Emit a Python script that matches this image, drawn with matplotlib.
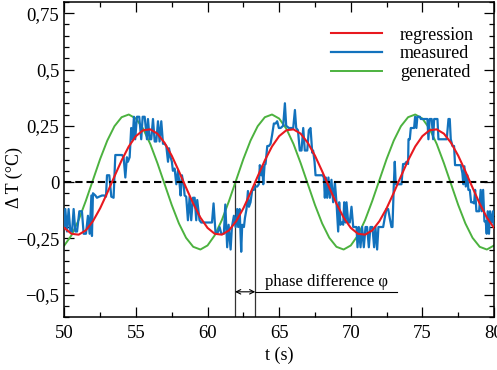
import matplotlib
matplotlib.use("Agg")
import matplotlib.pyplot as plt
import numpy as np
from matplotlib.ticker import MultipleLocator

# ---- data --------------------------------------------------------------
t_curve = np.arange(50.0, 80.01, 0.5)

regression = [
    -0.204, -0.230, -0.234, -0.215, -0.174, -0.117, -0.048, 0.025, 0.096, 0.158,
    0.204, 0.230, 0.234, 0.215, 0.174, 0.117, 0.048, -0.025, -0.096, -0.158,
    -0.204, -0.230, -0.234, -0.215, -0.174, -0.117, -0.048, 0.025, 0.096, 0.158,
    0.204, 0.230, 0.234, 0.215, 0.174, 0.117, 0.048, -0.025, -0.096, -0.158,
    -0.204, -0.230, -0.234, -0.215, -0.174, -0.117, -0.048, 0.025, 0.096, 0.158,
    0.204, 0.230, 0.234, 0.215, 0.174, 0.117, 0.048, -0.025, -0.096, -0.158,
    -0.204,
]

generated = [
    -0.282, -0.237, -0.169, -0.084, 0.009, 0.102, 0.184, 0.248, 0.288, 0.300,
    0.282, 0.237, 0.169, 0.084, -0.009, -0.102, -0.184, -0.248, -0.288, -0.300,
    -0.282, -0.237, -0.169, -0.084, 0.009, 0.102, 0.184, 0.248, 0.288, 0.300,
    0.282, 0.237, 0.169, 0.084, -0.009, -0.102, -0.184, -0.248, -0.288, -0.300,
    -0.282, -0.237, -0.169, -0.084, 0.009, 0.102, 0.184, 0.248, 0.288, 0.300,
    0.282, 0.237, 0.169, 0.084, -0.009, -0.102, -0.184, -0.248, -0.288, -0.300,
    -0.282,
]

t_meas = [
    50.00, 50.07, 50.19, 50.30, 50.42, 50.54, 50.65, 50.77, 50.89, 51.05,
    51.23, 51.35, 51.51, 51.65, 51.77, 51.89, 51.93, 52.00, 52.17, 52.28,
    52.44, 52.63, 52.81, 52.91, 52.98, 53.14, 53.28, 53.44, 53.56, 53.75,
    54.03, 54.14, 54.26, 54.37, 54.44, 54.56, 54.67, 54.77, 54.86, 54.95,
    55.07, 55.23, 55.37, 55.47, 55.61, 55.77,
    55.84, 55.96, 56.07, 56.19, 56.31, 56.42, 56.54, 56.65, 56.77, 56.89,
    57.00, 57.12, 57.24, 57.31, 57.42, 57.51, 57.58, 57.70, 57.82, 57.93,
    58.05, 58.12, 58.21, 58.33, 58.40, 58.51, 58.63, 58.75, 58.86, 58.98,
    59.10, 59.21, 59.28, 59.44, 59.56, 59.68, 59.91, 60.14, 60.31, 60.42,
    60.56, 60.68, 60.84, 60.96, 61.14, 61.24, 61.37, 61.47, 61.61, 61.70,
    61.84,
    61.96, 62.07, 62.14, 62.24, 62.35, 62.42, 62.54, 62.61, 62.72, 62.82,
    62.89, 63.00, 63.12, 63.24, 63.31, 63.47, 63.58, 63.65, 63.75, 63.82,
    63.89, 63.98, 64.05, 64.17, 64.28, 64.40, 64.51, 64.63, 64.75, 64.86,
    64.98, 65.10, 65.28, 65.40, 65.49, 65.68, 65.79, 65.98, 66.10, 66.19,
    66.31, 66.44, 66.56, 66.68, 66.79, 66.96, 67.07, 67.19, 67.31, 67.37,
    67.47, 67.54, 67.65, 67.84,
    68.03, 68.12, 68.19, 68.26, 68.35, 68.44, 68.54, 68.65, 68.77, 68.89,
    69.00, 69.12, 69.19, 69.28, 69.37, 69.47, 69.54, 69.63, 69.70, 69.82,
    69.93, 70.05, 70.17, 70.28, 70.40, 70.47, 70.56, 70.68, 70.79, 70.91,
    71.03, 71.14, 71.26, 71.37, 71.51, 71.63, 71.72, 71.84, 71.93, 72.03,
    72.14, 72.26, 72.37, 72.49, 72.61, 72.72, 72.84, 72.91, 73.00, 73.07,
    73.14, 73.24, 73.37, 73.54, 73.65, 73.77, 73.89, 74.00,
    74.03, 74.12, 74.19, 74.31, 74.42, 74.49, 74.58, 74.65, 74.82, 74.89,
    75.00, 75.12, 75.24, 75.35, 75.42, 75.51, 75.65, 75.75, 75.82, 75.93,
    76.05, 76.12, 76.24, 76.35, 76.44, 76.56, 76.70, 76.82, 76.91, 76.98,
    77.10, 77.21, 77.28, 77.44, 77.56, 77.68, 77.79, 77.86, 77.93, 78.03,
    78.14, 78.21, 78.31, 78.40, 78.49, 78.61, 78.68, 78.77, 78.84, 78.96,
    79.07, 79.14, 79.24, 79.33, 79.42, 79.49, 79.56, 79.65, 79.72, 79.84,
    79.93, 80.00,
]

measured = [
    -0.20, -0.12, -0.22, -0.12, -0.22, -0.22, -0.12, -0.22, -0.22, -0.13,
    -0.13, -0.23, -0.23, -0.15, -0.23, -0.06, -0.24, -0.05, -0.06, -0.07,
    -0.065, -0.06, -0.06, -0.065, 0.03, 0.03, -0.065, -0.07, 0.12, 0.12,
    0.12, 0.11, 0.02, 0.11, 0.09, 0.11, 0.24, 0.19, 0.29, 0.19,
    0.29, 0.29, 0.19, 0.29, 0.29, 0.19,
    0.28, 0.19, 0.19, 0.28, 0.18, 0.18, 0.27, 0.18, 0.27, 0.17,
    0.17, 0.16, 0.09, 0.15, 0.11, 0.09, 0.05, 0.06, -0.01, 0.05,
    -0.01, -0.06, 0.03, -0.01, -0.06, -0.065, -0.17, -0.065, -0.17, -0.07,
    -0.07, -0.17, -0.08, -0.17, -0.18, -0.18, -0.18, -0.18, -0.18, -0.095,
    -0.23, -0.23, -0.20, -0.23, -0.23, -0.10, -0.29, -0.19, -0.30, -0.20,
    -0.15,
    -0.20, -0.12, -0.20, -0.12, -0.31, -0.19, -0.20, -0.16, -0.12, -0.04,
    -0.11, -0.09, -0.035, -0.035, -0.02, -0.02, -0.01, 0.075, 0.03, 0.07,
    -0.01, 0.075, 0.08, 0.16, 0.16, 0.17, 0.21, 0.26, 0.26, 0.27,
    0.24, 0.24, 0.25, 0.35, 0.25, 0.24, 0.24, 0.24, 0.32, 0.24,
    0.23, 0.14, 0.14, 0.24, 0.14, 0.14, 0.23, 0.24, 0.13, 0.14,
    0.09, 0.03, 0.03, 0.03,
    0.03, 0.02, -0.07, 0.02, -0.07, 0.02, -0.07, 0.01, -0.09, 0.00,
    -0.09, -0.22, -0.09, -0.19, -0.18, -0.19, -0.09, -0.18, -0.09, -0.18,
    -0.18, -0.11, -0.20, -0.20, -0.20, -0.29, -0.20, -0.29, -0.20, -0.29,
    -0.20, -0.20, -0.29, -0.20, -0.20, -0.29, -0.20, -0.30, -0.20, -0.20,
    -0.20, -0.20, -0.16, -0.12, -0.12, -0.16, -0.20, -0.20, -0.02, 0.09,
    -0.01, -0.01, -0.01, -0.01, 0.08, 0.08, 0.09, 0.08,
    0.19, 0.19, 0.24, 0.24, 0.24, 0.29, 0.24, 0.29, 0.29, 0.28,
    0.28, 0.28, 0.28, 0.28, 0.19, 0.28, 0.28, 0.19, 0.28, 0.28,
    0.28, 0.19, 0.19, 0.19, 0.19, 0.19, 0.19, 0.28, 0.28, 0.19,
    0.16, 0.16, 0.075, 0.075, 0.075, 0.075, 0.04, -0.01, 0.07, -0.02,
    0.03, -0.035, -0.035, -0.09, -0.09, -0.095, -0.035, -0.13, -0.13, -0.13,
    -0.035, -0.13, -0.035, -0.175, -0.175, -0.23, -0.13, -0.23, -0.13, -0.18,
    -0.13, -0.20,
]

ytick_values = [-0.5, -0.25, 0.0, 0.25, 0.5, 0.75]
ytick_labels = ["\u22120,5", "\u22120,25", "0", "0,25", "0,5", "0,75"]
xtick_values = [50, 55, 60, 65, 70, 75, 80]

phase_start = 61.92   # generated crosses zero
phase_end = 63.33     # regression crosses zero
phase_arrow_y = -0.488
phase_line_end = 73.2

# ---- plot ---------------------------------------------------------------
plt.rcParams["font.family"] = ["Liberation Serif", "DejaVu Serif"]
plt.rcParams["font.size"] = 13

fig = plt.figure(figsize=(4.97, 3.70), dpi=100)
ax = fig.add_axes([0.1294, 0.1432, 0.8646, 0.8514])

ax.plot(t_curve, generated, color="#4cb23f", lw=1.4, label="generated", zorder=2)
ax.plot(t_meas, measured, color="#1272bd", lw=1.6, label="measured", zorder=3)
ax.axhline(0, color="black", lw=1.5, dashes=(3.5, 1.9), zorder=4)
ax.plot(t_curve, regression, color="#e8191f", lw=1.5, label="regression", zorder=5)

# phase difference annotation
ax.plot([phase_start, phase_start], [0.0, -0.6], color="#333333", lw=0.9, zorder=1)
ax.plot([phase_end, phase_end], [-0.01, -0.6], color="#333333", lw=0.9, zorder=1)
ax.annotate("", xy=(phase_start, phase_arrow_y), xytext=(phase_end, phase_arrow_y),
            arrowprops=dict(arrowstyle="<->", lw=0.8, color="black",
                            shrinkA=0, shrinkB=0, mutation_scale=8))
ax.plot([phase_end, phase_line_end], [phase_arrow_y, phase_arrow_y],
        color="black", lw=0.8)
ax.text(phase_end + 0.65, phase_arrow_y + 0.01, "phase difference \u03c6",
        ha="left", va="bottom", fontsize=12)

ax.set_xlim(50, 80)
ax.set_ylim(-0.6, 0.8)
ax.set_xticks(xtick_values)
ax.set_yticks(ytick_values)
ax.set_yticklabels(ytick_labels)
ax.xaxis.set_minor_locator(MultipleLocator(2.5))
ax.yaxis.set_minor_locator(MultipleLocator(0.05))
ax.tick_params(which="both", direction="in", top=True, right=True, width=0.9)
ax.tick_params(which="major", length=7, labelsize=13.5)
ax.tick_params(which="minor", length=3.5)
ax.tick_params(axis="x", pad=6)
for sp in ax.spines.values():
    sp.set_linewidth(1.1)

ax.set_xlabel("t (s)", fontsize=13, labelpad=3)
ax.set_ylabel("\u0394 T (\u00b0C)", fontsize=13)
ax.yaxis.set_label_coords(-0.097, 0.444)

handles, labels = ax.get_legend_handles_labels()
order = [2, 1, 0]
ax.legend([handles[i] for i in order], [labels[i] for i in order],
          loc="upper right", bbox_to_anchor=(0.953, 0.922), frameon=False,
          handlelength=2.8, handletextpad=1.0, labelspacing=0.1,
          fontsize=13, borderaxespad=0.0, borderpad=0.0)

fig.savefig("out.png", dpi=100)
